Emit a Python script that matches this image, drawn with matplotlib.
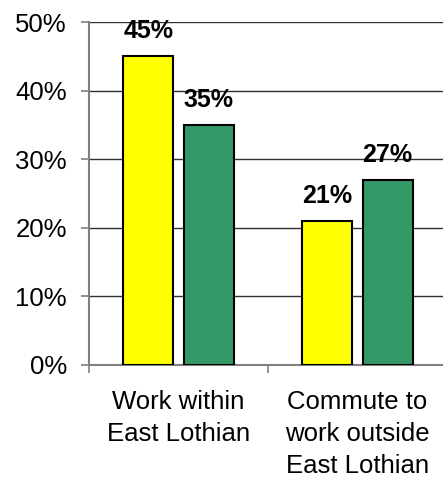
import matplotlib
matplotlib.use('Agg')
import matplotlib.pyplot as plt
import numpy as np

categories = ['Work within\nEast Lothian', 'Commute to\nwork outside\nEast Lothian']
series_a = [45, 21]
series_b = [35, 27]
yticks = [0, 10, 20, 30, 40, 50]
ytick_labels = ['0%', '10%', '20%', '30%', '40%', '50%']

plt.rcParams['font.family'] = ['Liberation Sans', 'DejaVu Sans']

fig = plt.figure(figsize=(4.43, 4.79), dpi=100)
ax = fig.add_axes([89 / 443, 114 / 479, 358 / 443, 343 / 479])

x = np.arange(len(categories))
w = 0.28
off = 0.168
bars_a = ax.bar(x - off, series_a, w, color='#FFFF00', edgecolor='black', linewidth=1.5, zorder=3)
bars_b = ax.bar(x + off, series_b, w, color='#339966', edgecolor='black', linewidth=1.5, zorder=3)

# value labels above each bar
for bars, vals in [(bars_a, series_a), (bars_b, series_b)]:
    for b, v in zip(bars, vals):
        ax.annotate(f'{v}%', (b.get_x() + b.get_width() / 2, v),
                    xytext=(0, 9.5), textcoords='offset points',
                    ha='center', va='bottom', fontsize=18, fontweight='bold')

ax.set_xlim(-0.5, 1.5)
ax.set_ylim(0, 50)
ax.set_yticks(yticks)
ax.set_yticklabels(ytick_labels, fontsize=18.5)
ax.yaxis.grid(True, color='#303030', linewidth=1, zorder=0)
ax.set_axisbelow(True)

ax.set_xticks(x)
ax.set_xticklabels(categories, fontsize=18.5, linespacing=1.42)
ax.set_xticks([-0.5, 0.5, 1.5], minor=True)
ax.tick_params(axis='x', which='major', length=0, pad=18)
ax.tick_params(axis='x', which='minor', length=6, width=1.2, color='#808080', direction='out')
ax.tick_params(axis='y', length=6, width=1.2, color='#808080', pad=10)

for s in ['top', 'right']:
    ax.spines[s].set_visible(False)
for s in ['left', 'bottom']:
    ax.spines[s].set_color('#808080')
    ax.spines[s].set_linewidth(1.5)

fig.savefig('out.png', dpi=100)
